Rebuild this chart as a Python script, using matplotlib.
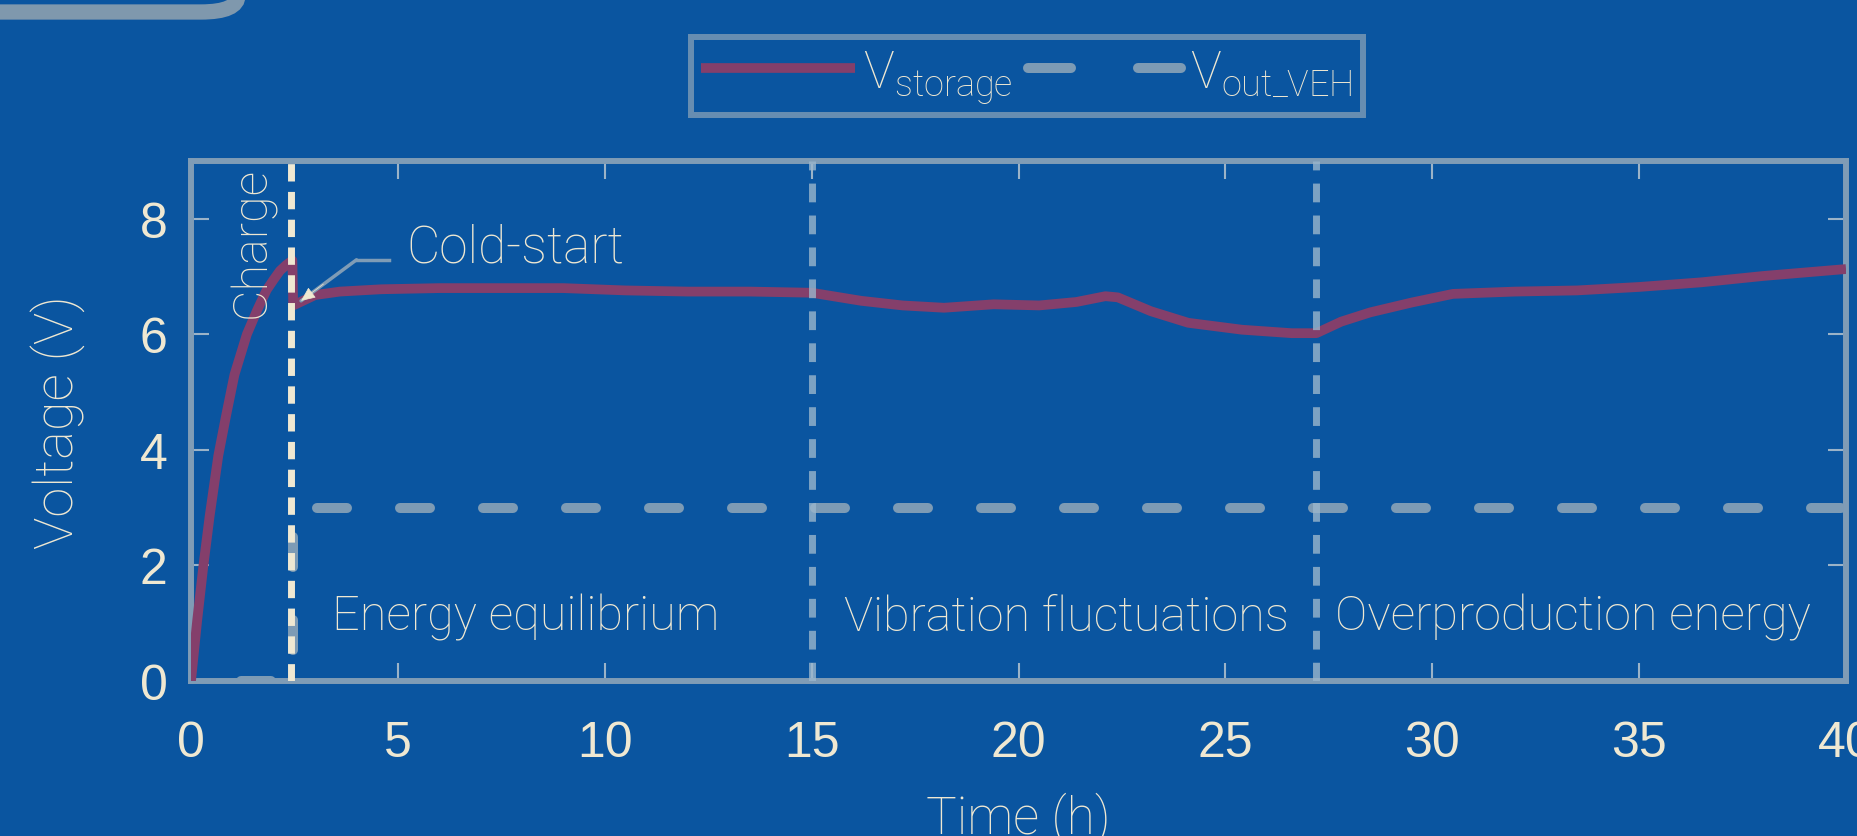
import matplotlib
matplotlib.use("Agg")
import matplotlib.pyplot as plt
from matplotlib.patches import FancyBboxPatch

# data
t_storage = [0, 0.15, 0.3, 0.45, 0.66, 0.85, 1.05, 1.35, 1.6, 1.83, 2.0, 2.15, 2.3,
             2.45, 2.47, 3.0, 3.6, 4.6, 6.0, 7.5, 9.0, 10.5, 12.0, 13.5, 15.0, 16.2,
             17.2, 18.2, 19.4, 20.5, 21.4, 22.1, 22.4, 23.2, 24.1, 25.4, 26.6, 27.2,
             27.8, 28.5, 29.5, 30.5, 32.0, 33.5, 35.0, 36.5, 38.0, 40.0]
v_storage = [0, 1.05, 2.0, 2.85, 3.9, 4.6, 5.3, 6.0, 6.42, 6.77, 6.95, 7.1, 7.2,
             7.28, 6.5, 6.68, 6.74, 6.78, 6.8, 6.8, 6.8, 6.76, 6.74, 6.74, 6.72, 6.58,
             6.5, 6.46, 6.52, 6.5, 6.56, 6.66, 6.64, 6.4, 6.2, 6.08, 6.02, 6.02,
             6.22, 6.38, 6.55, 6.7, 6.74, 6.76, 6.82, 6.9, 7.01, 7.13]
t_out = [0, 2.47, 2.47, 40]
v_out = [0, 0, 3, 3]

t_coldstart = 2.41
phase_bounds = [15, 27.2]
phase_labels = ["Energy equilibrium", "Vibration fluctuations", "Overproduction energy"]
phase_centers = [8.1, 21.17, 33.4]
xticks = [0, 5, 10, 15, 20, 25, 30, 35, 40]
yticks = [0, 2, 4, 6, 8]

bg = "#0a55a0"
ink = "#efe8d2"
grey = "#7f9cb6"
hand = ["Roboto", "DejaVu Sans"]
hw = "light"

fig = plt.figure(figsize=(18.57, 8.37), dpi=100, facecolor=bg)
ax = fig.add_axes([191/1857, 155/837, 1655/1857, 520/837])
ax.set_facecolor("none")

# decorative frame corner, top left
fig.patches.append(FancyBboxPatch((-0.1, 1 - 13/837), 0.1 + 238/1857, 0.2,
                                  boxstyle="round,pad=0,rounding_size=0.02",
                                  transform=fig.transFigure, fill=False,
                                  edgecolor="#7f98ad", lw=11, zorder=0))

ax.plot(t_storage, v_storage, color="#843f6b", lw=7, solid_capstyle="butt",
        label=r"$\mathregular{V_{storage}}$", zorder=3)
ax.plot(t_out, v_out, color="#7d9bb5", lw=7.2, dash_capstyle="round",
        linestyle=(3.3, (3, 5.3)), label=r"$\mathregular{V_{out\_VEH}}$", zorder=2)

ax.axvline(t_coldstart, color=ink, lw=5, linestyle=(0, (2.5, 1.5)), zorder=4)
for b in phase_bounds:
    ax.axvline(b, color="#9ab6cc", lw=5, alpha=0.8, linestyle=(0, (2.7, 1.9)), zorder=4)

for lab, c in zip(phase_labels, phase_centers):
    ax.text(c, 1.12, lab, color=ink, fontsize=35, family=hand, weight=hw,
            ha="center", va="center")
ax.text(1.47, 7.6, "Charge", color=ink, fontsize=35, family=hand, weight=hw,
        rotation=90, ha="center", va="center")
ax.text(7.83, 7.51, "Cold-start", color=ink, fontsize=37, family=hand, weight=hw,
        ha="center", va="center")
ax.plot([4.79, 4.0], [7.29, 7.29], color=grey, lw=2.5, zorder=5)
ax.annotate("", xy=(2.66, 6.58), xytext=(4.0, 7.29),
            arrowprops=dict(arrowstyle="-", color=grey, lw=2.5,
                            shrinkA=0, shrinkB=0), zorder=5)
ax.annotate("", xy=(2.66, 6.58), xytext=(3.2, 6.87),
            arrowprops=dict(arrowstyle="-|>,head_length=0.9,head_width=0.4",
                            color=ink, lw=0.5, shrinkA=0, shrinkB=0), zorder=6)

ax.set_xlim(0, 40)
ax.set_ylim(0, 9)
ax.set_xticks(xticks)
ax.set_yticks(yticks)
ax.tick_params(which="both", direction="in", top=True, right=True, length=13,
               width=1.5, color="#9bb3c8", labelcolor=ink, labelsize=36)
ax.tick_params(axis="x", pad=28)
ax.tick_params(axis="y", pad=17)
for lbl in ax.get_xticklabels() + ax.get_yticklabels():
    lbl.set_family(["Liberation Sans", "DejaVu Sans"])
for s in ax.spines.values():
    s.set_color(grey)
    s.set_linewidth(4.3)

ax.text(0.5, -0.292, "Time (h)", transform=ax.transAxes, color=ink, fontsize=37,
        family=hand, weight=hw, ha="center", va="baseline")
ax.text(-0.08, 0.5, "Voltage (V)", transform=ax.transAxes, color=ink, fontsize=39,
        family=hand, weight=hw, rotation=90, ha="center", va="center")

leg = ax.legend(loc="center", bbox_to_anchor=(1027/1857, 1 - 77/837),
                bbox_transform=fig.transFigure, ncol=2, frameon=True,
                fancybox=False, handlelength=3.0, columnspacing=0.3,
                handletextpad=0.15, borderpad=0.2,
                prop={"family": hand, "weight": hw, "size": 37})
leg.get_frame().set_facecolor("none")
leg.get_frame().set_edgecolor(grey)
leg.get_frame().set_linewidth(4.3)
leg.legend_handles[1].set_linestyle((0, (4.3, 6.7)))
for txt in leg.get_texts():
    txt.set_color(ink)

fig.savefig("out.png", dpi=100, facecolor=bg)
